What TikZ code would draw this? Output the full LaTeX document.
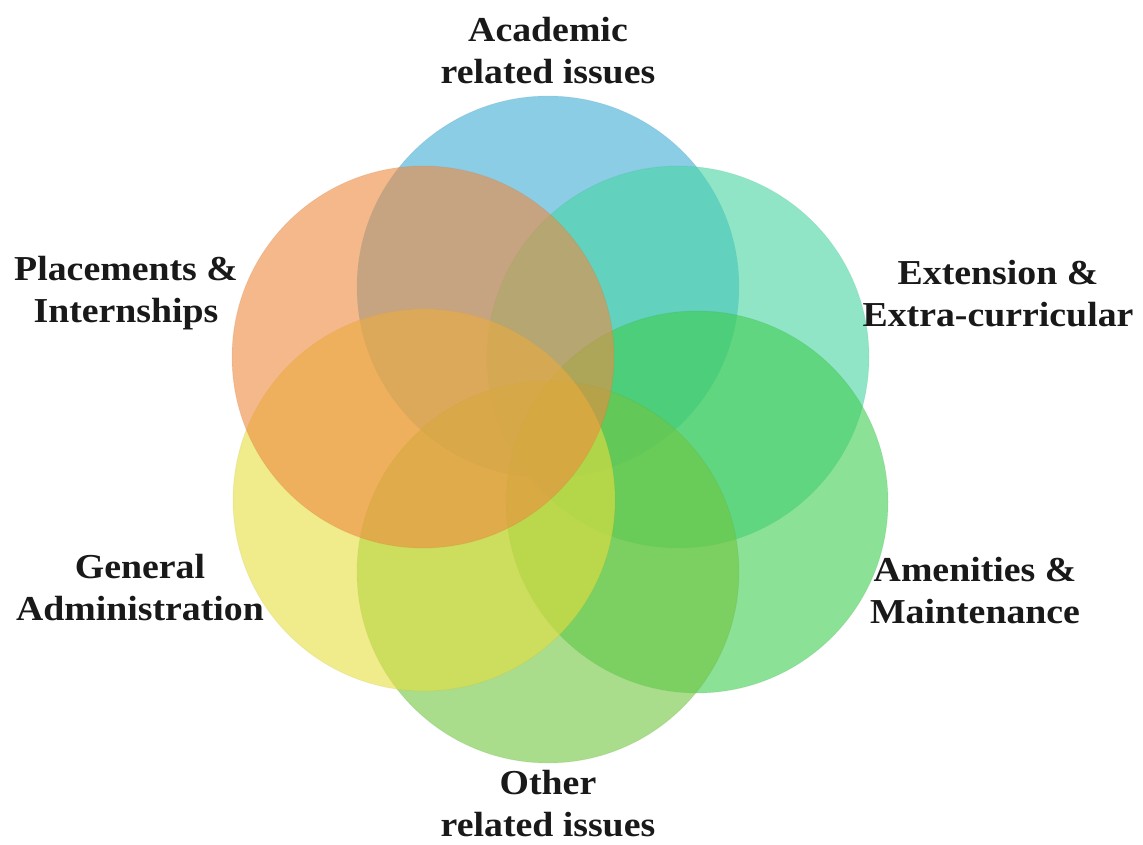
\documentclass[tikz,border=0pt]{standalone}
\usepackage{fontspec}
\setmainfont{Liberation Serif}[FakeStretch=1.08]
\definecolor{cacad}{RGB}{63,172,213}
\definecolor{cplac}{RGB}{238,138,63}
\definecolor{cext}{RGB}{72,213,163}
\definecolor{cgen}{RGB}{230,222,63}
\definecolor{camen}{RGB}{63,205,80}
\definecolor{cother}{RGB}{113,197,63}
\begin{document}
\begin{tikzpicture}[x=1pt,y=-1pt,
  petal/.style={circle, minimum size=382pt, inner sep=0pt, fill=#1, fill opacity=0.6,
    draw=#1!80!black, draw opacity=0.12, line width=0.8pt},
  lbl/.style={align=center, inner sep=0pt, font=\fontsize{35}{42}\selectfont\bfseries, text=black!90}]
\useasboundingbox (0,0) rectangle (1143,845);
\fill[white] (0,0) rectangle (1143,845);
% circles, drawn bottom to top
\node[petal=cacad]  (acad)  at (548,287) {};
\node[petal=cext]   (ext)   at (678,357) {};
\node[petal=camen]  (amen)  at (697,502) {};
\node[petal=cother] (other) at (548,572) {};
\node[petal=cgen]   (gen)   at (424,500) {};
\node[petal=cplac]  (plac)  at (423,357) {};
% labels
\node[lbl] (tacad)  at (548,51)  {Academic\\related issues};
\node[lbl] (tplac)  at (126,293) {Placements \&\\Internships};
\node[lbl] (text)   at (998,294) {Extension \&\\Extra-curricular};
\node[lbl] (tgen)   at (140,588) {General\\Administration};
\node[lbl] (tamen)  at (975,591) {Amenities \&\\Maintenance};
\node[lbl] (tother) at (548,804) {Other\\related issues};
\end{tikzpicture}
\end{document}
